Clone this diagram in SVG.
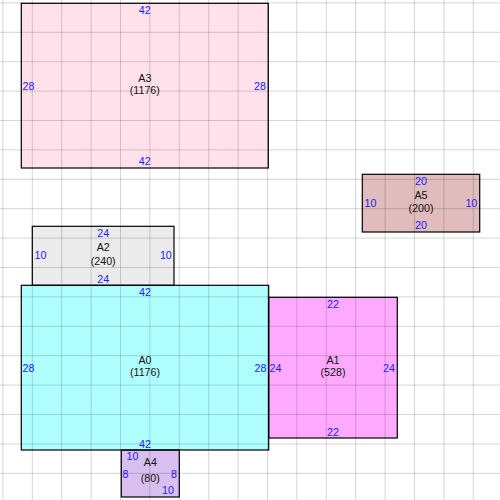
<svg xmlns="http://www.w3.org/2000/svg" width="500" height="500" viewBox="0 0 500 500">
<defs>
<style>
.grid line{stroke:#000;stroke-opacity:0.17;stroke-width:1}
.box{stroke:#000;stroke-width:1.2}
.nm{font-family:"Liberation Sans",Arial,sans-serif;font-size:10.7px;fill:#111;text-anchor:middle}
.dm{font-family:"Liberation Sans",Arial,sans-serif;font-size:10.7px;fill:#1a1aff}
.c{text-anchor:middle}.s{text-anchor:start}.e{text-anchor:end}
</style>
</defs>
<rect width="500" height="500" fill="#fff"/>
<g id="fills">
<rect x="21.3" y="3.3" width="247" height="164.7" fill="#ffe1ec"/>
<rect x="362.3" y="174.3" width="117.4" height="57.7" fill="#e0bcbc"/>
<rect x="32.3" y="226.3" width="141.7" height="59" fill="#ebebeb"/>
<rect x="268.7" y="297.3" width="128.6" height="140.7" fill="#ffaaff"/>
<rect x="21.3" y="285.3" width="247.4" height="164.7" fill="#b0ffff"/>
<rect x="121.3" y="450" width="58" height="47" fill="#d9bff0"/>
</g>
<g class="grid">
<line x1="2.9" y1="0" x2="2.9" y2="500"/><line x1="32.3" y1="0" x2="32.3" y2="500"/><line x1="61.7" y1="0" x2="61.7" y2="500"/><line x1="91.1" y1="0" x2="91.1" y2="500"/><line x1="120.5" y1="0" x2="120.5" y2="500"/><line x1="149.9" y1="0" x2="149.9" y2="500"/><line x1="179.3" y1="0" x2="179.3" y2="500"/><line x1="208.7" y1="0" x2="208.7" y2="500"/><line x1="238.1" y1="0" x2="238.1" y2="500"/><line x1="267.5" y1="0" x2="267.5" y2="500"/><line x1="296.9" y1="0" x2="296.9" y2="500"/><line x1="326.3" y1="0" x2="326.3" y2="500"/><line x1="355.7" y1="0" x2="355.7" y2="500"/><line x1="385.1" y1="0" x2="385.1" y2="500"/><line x1="414.5" y1="0" x2="414.5" y2="500"/><line x1="443.9" y1="0" x2="443.9" y2="500"/><line x1="473.3" y1="0" x2="473.3" y2="500"/>
<line y1="2.9" x1="0" y2="2.9" x2="500"/><line y1="32.3" x1="0" y2="32.3" x2="500"/><line y1="61.7" x1="0" y2="61.7" x2="500"/><line y1="91.1" x1="0" y2="91.1" x2="500"/><line y1="120.5" x1="0" y2="120.5" x2="500"/><line y1="149.9" x1="0" y2="149.9" x2="500"/><line y1="179.3" x1="0" y2="179.3" x2="500"/><line y1="208.7" x1="0" y2="208.7" x2="500"/><line y1="238.1" x1="0" y2="238.1" x2="500"/><line y1="267.5" x1="0" y2="267.5" x2="500"/><line y1="296.9" x1="0" y2="296.9" x2="500"/><line y1="326.3" x1="0" y2="326.3" x2="500"/><line y1="355.7" x1="0" y2="355.7" x2="500"/><line y1="385.1" x1="0" y2="385.1" x2="500"/><line y1="414.5" x1="0" y2="414.5" x2="500"/><line y1="443.9" x1="0" y2="443.9" x2="500"/><line y1="473.3" x1="0" y2="473.3" x2="500"/>
</g>
<g id="A3">
<rect class="box" x="21.3" y="3.3" width="247" height="164.7" fill="none"/>
<text class="nm" x="144.8" y="82">A3</text><text class="nm" x="144.8" y="93.5">(1176)</text>
<text class="dm c" x="144.8" y="14">42</text><text class="dm c" x="144.8" y="165">42</text>
<text class="dm s" x="22.5" y="90">28</text><text class="dm e" x="266" y="90">28</text>
</g>
<g id="A5">
<rect class="box" x="362.3" y="174.3" width="117.4" height="57.7" fill="none"/>
<text class="nm" x="421" y="199.3">A5</text><text class="nm" x="421" y="211.5">(200)</text>
<text class="dm c" x="421" y="184.7">20</text><text class="dm c" x="421" y="229.3">20</text>
<text class="dm s" x="364.5" y="206.7">10</text><text class="dm e" x="477.3" y="206.7">10</text>
</g>
<g id="A2">
<rect class="box" x="32.3" y="226.3" width="141.7" height="59" fill="none"/>
<text class="nm" x="103.2" y="251.3">A2</text><text class="nm" x="103.2" y="264.5">(240)</text>
<text class="dm c" x="103.2" y="236.7">24</text><text class="dm c" x="103.2" y="282.7">24</text>
<text class="dm s" x="34.5" y="259.3">10</text><text class="dm e" x="171.8" y="259.3">10</text>
</g>
<g id="A1">
<rect class="box" x="268.7" y="297.3" width="128.6" height="140.7" fill="none"/>
<text class="nm" x="333" y="364">A1</text><text class="nm" x="333" y="376">(528)</text>
<text class="dm c" x="333" y="308">22</text><text class="dm c" x="333" y="436">22</text>
<text class="dm s" x="269.5" y="372">24</text><text class="dm e" x="395" y="372">24</text>
</g>
<g id="A0">
<rect class="box" x="21.3" y="285.3" width="247.4" height="164.7" fill="none"/>
<text class="nm" x="145" y="364">A0</text><text class="nm" x="145" y="376">(1176)</text>
<text class="dm c" x="145" y="296">42</text><text class="dm c" x="145" y="448">42</text>
<text class="dm s" x="22.5" y="372">28</text><text class="dm e" x="266.5" y="372">28</text>
</g>
<g id="A4">
<rect class="box" x="121.3" y="450" width="58" height="47" fill="none"/>
<text class="nm" x="150.3" y="466">A4</text><text class="nm" x="150.3" y="481.7">(80)</text>
<text class="dm c" x="132.5" y="460">10</text><text class="dm c" x="168" y="494.3">10</text>
<text class="dm s" x="122.5" y="477.7">8</text><text class="dm e" x="177" y="477.7">8</text>
</g>
</svg>
